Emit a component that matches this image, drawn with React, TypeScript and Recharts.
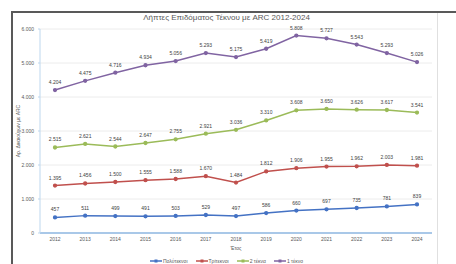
import { LineChart, Line, XAxis, YAxis, CartesianGrid, LabelList } from "recharts";

const years = ["2012", "2013", "2014", "2015", "2016", "2017", "2018", "2019", "2020", "2021", "2022", "2023", "2024"];
const polyteknoi = [457, 511, 499, 491, 503, 529, 497, 586, 660, 697, 735, 781, 839];
const triteknoi = [1395, 1456, 1500, 1555, 1588, 1670, 1484, 1812, 1906, 1955, 1962, 2003, 1981];
const dyoTekna = [2515, 2621, 2544, 2647, 2755, 2921, 3036, 3310, 3608, 3650, 3626, 3617, 3541];
const enaTekno = [4204, 4475, 4716, 4934, 5056, 5293, 5175, 5419, 5808, 5727, 5543, 5293, 5026];
const yTicks = [0, 1000, 2000, 3000, 4000, 5000, 6000];

const SERIES = [
  { key: "poly", name: "Πολύτεκνοι", color: "#4472C4", values: polyteknoi },
  { key: "tri", name: "Τρίτεκνοι", color: "#C0504D", values: triteknoi },
  { key: "two", name: "2 τέκνα", color: "#9BBB59", values: dyoTekna },
  { key: "one", name: "1 τέκνο", color: "#8064A2", values: enaTekno },
];

const data = years.map((y, i) => {
  const row: Record<string, string | number> = { year: y };
  SERIES.forEach((s) => (row[s.key] = s.values[i]));
  return row;
});

const fmt = (v: number) => v.toLocaleString("de-DE");
const FONT = "'Liberation Sans', Arial, sans-serif";

export default function App() {
  return (
    <div style={{ position: "absolute", left: 0, top: 0, width: 456, height: 264, background: "#fff", fontFamily: FONT, overflow: "hidden" }}>
      {/* frame */}
      <div style={{ position: "absolute", left: 11, top: 11, width: 445, height: 2, background: "#595959" }} />
      <div style={{ position: "absolute", left: 11, top: 11, width: 2, height: 253, background: "#595959" }} />
      <div style={{ position: "absolute", left: 437, top: 13, width: 1, height: 251, background: "#e0e0e0" }} />
      <div style={{ position: "absolute", left: 0, top: 13, width: 437, textAlign: "center", paddingLeft: 8, fontSize: 8, color: "#595959" }}>
        Λήπτες Επιδόματος Τέκνου με ARC 2012-2024
      </div>
      <div
        style={{
          position: "absolute",
          left: 18,
          top: 131,
          transform: "translate(-50%, -50%) rotate(-90deg)",
          fontSize: 5,
          color: "#595959",
          whiteSpace: "nowrap",
        }}
      >
        Αρ. Δικαιούχων με ARC
      </div>
      <div style={{ position: "absolute", left: 0, top: 0 }}>
        <LineChart width={456} height={264} data={data} margin={{ top: 29, right: 24, bottom: 0, left: 0 }}>
          <CartesianGrid vertical={false} stroke="#ececec" strokeWidth={1} />
          <XAxis
            dataKey="year"
            height={31}
            padding={{ left: 15, right: 15 }}
            tickSize={0}
            tickMargin={4}
            axisLine={{ stroke: "#a9c8e8", strokeWidth: 2 }}
            tick={{ fontSize: 5, fill: "#595959", fontFamily: FONT }}
            label={{ value: "Έτος", position: "insideBottom", offset: 14, fontSize: 5, fill: "#595959" }}
          />
          <YAxis
            width={40}
            domain={[0, 6000]}
            ticks={yTicks}
            tickFormatter={fmt}
            tickSize={2}
            tickMargin={4}
            axisLine={{ stroke: "#bdd7ee" }}
            tickLine={{ stroke: "#bdd7ee" }}
            tick={{ fontSize: 5, fill: "#595959", fontFamily: FONT }}
          />
          {SERIES.map((s) => (
            <Line
              key={s.key}
              dataKey={s.key}
              name={s.name}
              stroke={s.color}
              strokeWidth={1.5}
              dot={{ r: 1.4, fill: s.color, stroke: s.color }}
              isAnimationActive={false}
            >
              <LabelList dataKey={s.key} position="top" offset={6} formatter={(v: number) => fmt(v)} style={{ fontSize: 5, fill: "#404040", fontFamily: FONT }} />
            </Line>
          ))}
        </LineChart>
      </div>
      {/* legend */}
      <div style={{ position: "absolute", left: 150, top: 258, display: "flex", gap: 8, fontSize: 5, color: "#595959" }}>
        {SERIES.map((s) => (
          <div key={s.key} style={{ display: "flex", alignItems: "center", gap: 1 }}>
            <svg width={12} height={6}>
              <line x1={0} y1={3} x2={12} y2={3} stroke={s.color} strokeWidth={1.5} />
              <rect x={4.5} y={1.5} width={3} height={3} fill={s.color} />
            </svg>
            <span>{s.name}</span>
          </div>
        ))}
      </div>
    </div>
  );
}
